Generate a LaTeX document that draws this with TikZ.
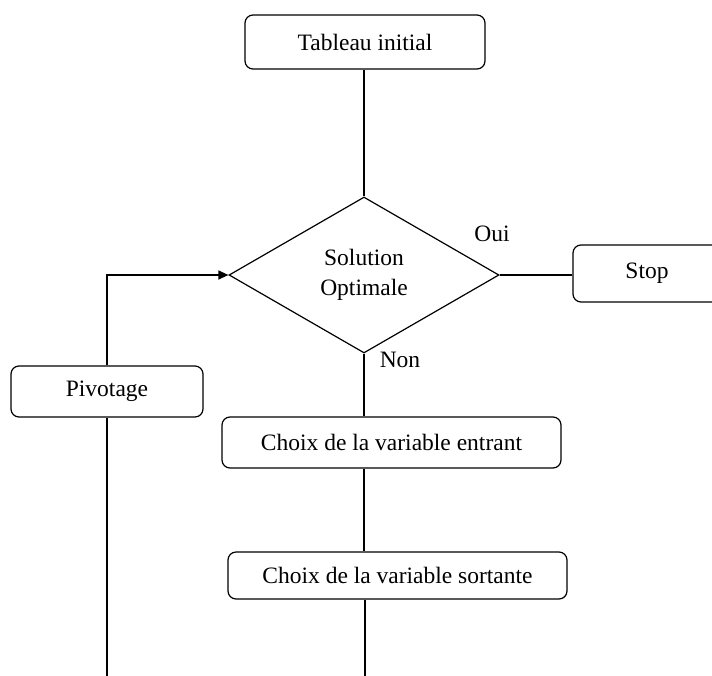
\documentclass[tikz,border=0pt]{standalone}
\usepackage{fontspec}
\setmainfont{Liberation Serif}
\usetikzlibrary{arrows.meta,shapes.geometric}
\begin{document}
\begin{tikzpicture}[x=1pt,y=-1pt,
  txt/.style={font=\fontsize{23.5}{30}\selectfont},
  box/.style={draw, rounded corners=8pt, line width=1.2pt, inner sep=0pt, txt},
  decision/.style={draw, diamond, aspect=1.73, line width=1.2pt, inner sep=0pt, align=center, txt,
    minimum width=270pt, minimum height=156pt},
  conn/.style={line width=1.2pt},
  lbl/.style={txt, inner sep=0pt}]
\useasboundingbox (0,0) rectangle (712,675);
\clip (0,0) rectangle (712,675);
\fill[white] (0,0) rectangle (712,675);

\node[box, minimum width=240pt, minimum height=54pt] (tab) at (365,42) {Tableau initial};
\node[decision] (dia) at (364,275) {Solution\\Optimale};
\node[box, minimum width=148pt, minimum height=57pt] (stop) at (647,273.5) {Stop};
\node[box, minimum width=192pt, minimum height=51pt] (piv) at (107,391.5) {Pivotage};
\node[box, minimum width=339pt, minimum height=51pt] (entr) at (391.5,442.5) {Choix de la variable entrant};
\node[box, minimum width=339pt, minimum height=47pt] (sort) at (397.5,575.5) {Choix de la variable sortante};

\node[lbl] (oui) at (492,234) {Oui};
\node[lbl] (non) at (400,360) {Non};

\coordinate (endA) at (107,676);
\coordinate (endB) at (365,676);

\draw[conn] (tab.south -| dia.north) -- (dia.north);
\draw[conn] (dia.east) -- (stop.west |- dia.east);
\draw[conn] (dia.south) -- (dia.south |- entr.north);
\draw[conn] (dia.south |- entr.south) -- (dia.south |- sort.north);
\draw[conn] (sort.south -| endB) -- (endB);
\draw[conn, -{Triangle[length=10pt,width=9pt]}] (piv.north) |- (dia.west);
\draw[conn] (piv.south) -- (endA);
\end{tikzpicture}
\end{document}
